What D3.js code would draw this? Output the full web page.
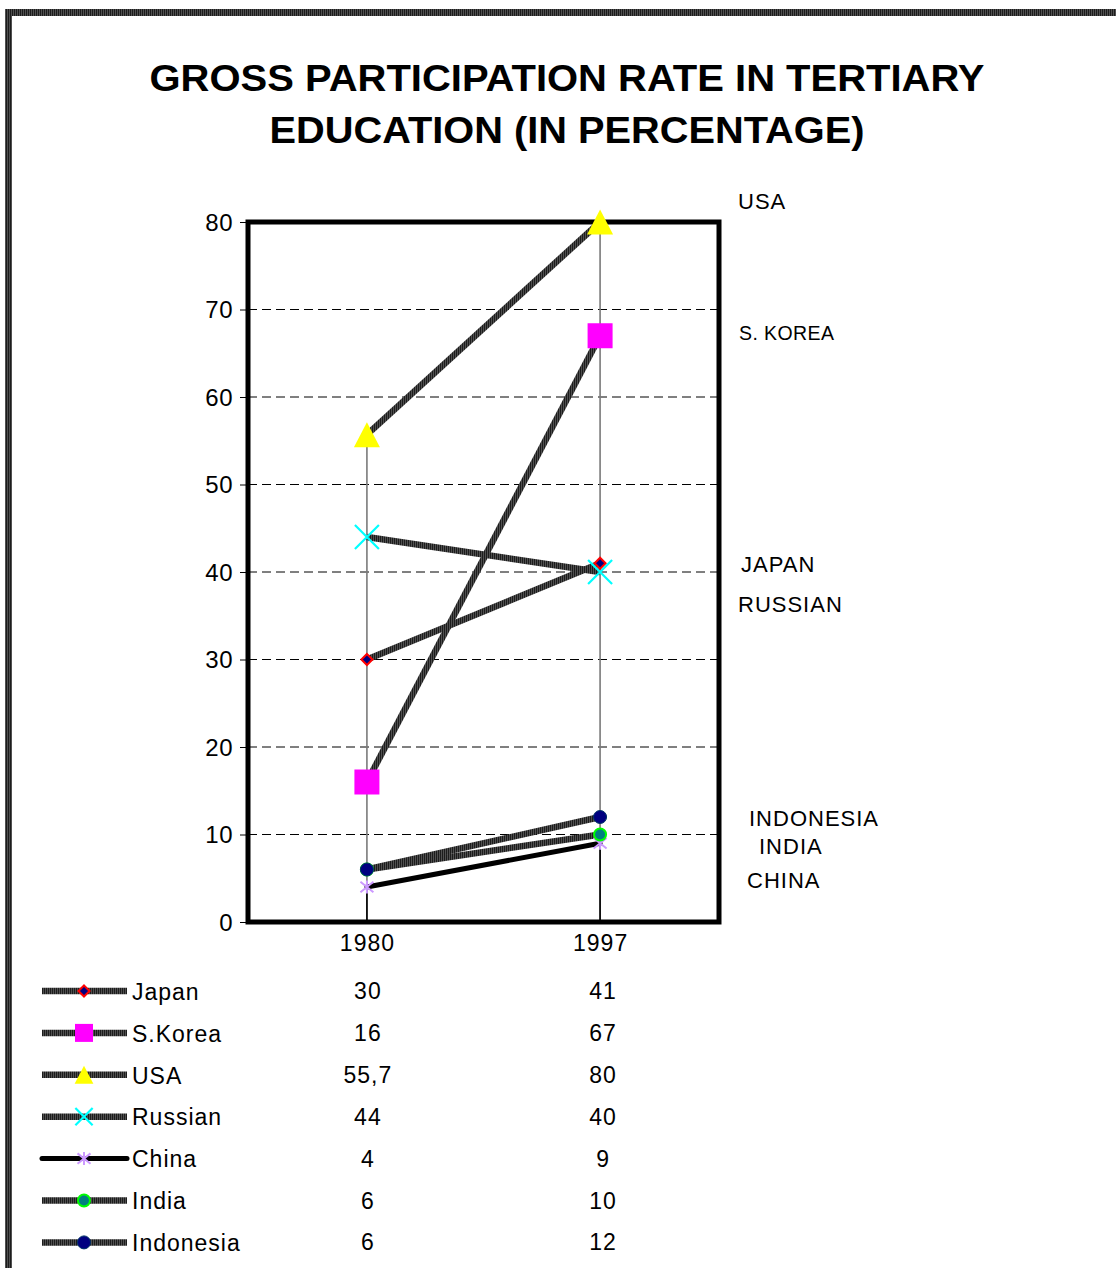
<!DOCTYPE html>
<html>
<head>
<meta charset="utf-8">
<script src="https://cdn.jsdelivr.net/npm/d3@7"></script>
<style>
  body { margin: 0; background: #fff; }
  svg { display: block; }
  text { font-family: "Liberation Sans", Arial, sans-serif; fill: #000; }
</style>
</head>
<body>
<svg id="chart" width="1116" height="1268"></svg>
<script>
// Gross participation rate in tertiary education, 1980 vs 1997
const categories = ["1980", "1997"];
const seriesNames = ["Japan", "S.Korea", "USA", "Russian", "China", "India", "Indonesia"];
const values1980 = [30, 16, 55.7, 44, 4, 6, 6];
const values1997 = [41, 67, 80, 40, 9, 10, 12];
const yTicks = [0, 10, 20, 30, 40, 50, 60, 70, 80];
const titleLines = ["GROSS PARTICIPATION RATE IN TERTIARY", "EDUCATION (IN PERCENTAGE)"];

// Free-floating country captions to the right of the plot, anchored on the value axis
const endLabels = ["USA", "S. KOREA", "JAPAN", "RUSSIAN", "INDONESIA", "INDIA", "CHINA"];
const endLabelLevels = [82.4, 67.3, 40.9, 36.3, 11.9, 8.7, 4.8];

const svg = d3.select("#chart");
const defs = svg.append("defs");

// Striped fill used for the thick series lines and the page frame
const stripes = defs.append("pattern")
  .attr("id", "stripes").attr("patternUnits", "userSpaceOnUse")
  .attr("width", 2).attr("height", 4);
stripes.append("rect").attr("width", 2).attr("height", 4).attr("fill", "#505050");
stripes.append("rect").attr("width", 1).attr("height", 4).attr("fill", "#1c1c1c");

// Page frame
svg.append("rect")
  .attr("x", 8.5).attr("y", 12.5).attr("width", 1400).attr("height", 1600)
  .attr("fill", "none").attr("stroke", "url(#stripes)").attr("stroke-width", 7);

// Title
svg.append("g").selectAll("text").data(titleLines).join("text")
  .attr("x", 567).attr("y", (d, i) => 91 + i * 52)
  .attr("text-anchor", "middle")
  .attr("font-size", 37).attr("font-weight", "bold")
  .attr("textLength", (d, i) => i === 0 ? 835 : 595)
  .attr("lengthAdjust", "spacingAndGlyphs")
  .text(d => d);

const plot = { left: 248, right: 719, top: 222, bottom: 922 };

const x = d3.scalePoint().domain(categories).range([plot.left, plot.right]).padding(0.51);
const y = d3.scaleLinear().domain([0, 80]).range([plot.bottom, plot.top]);

const series = seriesNames.map((name, i) => ({
  name,
  values: [{ cat: categories[0], v: values1980[i] }, { cat: categories[1], v: values1997[i] }]
}));

// Dashed grid
svg.append("g").selectAll("line").data(yTicks.filter(t => t > 0 && t < 80)).join("line")
  .attr("x1", plot.left).attr("x2", plot.right)
  .attr("y1", d => y(d)).attr("y2", d => y(d))
  .attr("stroke", "#000").attr("stroke-width", 1).attr("stroke-dasharray", "9,5");

// Y axis
const yAxis = d3.axisLeft(y).tickValues(yTicks).tickSize(8).tickPadding(7).tickSizeOuter(0);
const yG = svg.append("g").attr("transform", `translate(${plot.left},0)`).call(yAxis);
yG.select(".domain").remove();
yG.selectAll("line").attr("stroke", "#000");
yG.selectAll("text").attr("font-size", 24).attr("font-family", "'Liberation Sans', Arial, sans-serif")
  .attr("letter-spacing", 0.5).attr("dy", "0.35em").attr("fill", "#000");

// X axis labels
const xAxis = d3.axisBottom(x).tickSize(0).tickPadding(13);
const xG = svg.append("g").attr("transform", `translate(0,${plot.bottom})`).call(xAxis);
xG.select(".domain").remove();
xG.selectAll("text").attr("font-size", 23).attr("font-family", "'Liberation Sans', Arial, sans-serif")
  .attr("letter-spacing", 1).attr("fill", "#000");

// Drop lines at each category
const dropG = svg.append("g");
categories.forEach((c, ci) => {
  const vals = series.map(s => s.values[ci].v);
  dropG.append("line")
    .attr("x1", x(c)).attr("x2", x(c)).attr("y1", y(d3.max(vals))).attr("y2", y(0))
    .attr("stroke", "#7a7a7a").attr("stroke-width", 1.6);
  dropG.append("line")
    .attr("x1", x(c)).attr("x2", x(c)).attr("y1", y(d3.min(vals))).attr("y2", y(0))
    .attr("stroke", "#000").attr("stroke-width", 1.6);
});

// Plot frame
svg.append("rect")
  .attr("x", plot.left).attr("y", plot.top)
  .attr("width", plot.right - plot.left).attr("height", plot.bottom - plot.top)
  .attr("fill", "none").attr("stroke", "#000").attr("stroke-width", 5);

// Series lines
const line = d3.line().x(d => x(d.cat)).y(d => y(d.v));
const lineStroke = name => name === "China" ? "#000" : "url(#stripes)";
const lineWidth = name => name === "China" ? 5 : 6.5;

svg.append("g").selectAll("path").data(series).join("path")
  .attr("d", d => line(d.values))
  .attr("fill", "none")
  .attr("stroke", d => lineStroke(d.name))
  .attr("stroke-width", d => lineWidth(d.name))
  .attr("stroke-linecap", d => d.name === "China" ? "round" : "butt");

// Marker shapes per series
function drawMarker(g, name, k) {
  switch (name) {
    case "Japan":
      g.append("path").attr("d", "M0,-5.5L5.5,0L0,5.5L-5.5,0Z")
        .attr("fill", "#000080").attr("stroke", "#ff0000").attr("stroke-width", 2);
      break;
    case "S.Korea": {
      const h = 12.5 * k;
      g.append("rect").attr("x", -h).attr("y", -h).attr("width", 2 * h).attr("height", 2 * h)
        .attr("fill", "#ff00ff");
      break;
    }
    case "USA": {
      const w = 13 * k, h = 12.5 * k;
      g.append("path").attr("d", `M0,${-h}L${w},${h}L${-w},${h}Z`).attr("fill", "#ffff00");
      break;
    }
    case "Russian": {
      const h = 12 * k;
      g.append("path").attr("d", `M${-h},${-h}L${h},${h}M${-h},${h}L${h},${-h}`)
        .attr("stroke", "#00ffff").attr("stroke-width", 2.2).attr("fill", "none");
      break;
    }
    case "China": {
      const h = 6.5;
      g.append("path").attr("d", `M0,${-h}L0,${h}M${-h},${-h * 0.8}L${h},${h * 0.8}M${-h},${h * 0.8}L${h},${-h * 0.8}`)
        .attr("stroke", "#cc99ff").attr("stroke-width", 2).attr("fill", "none");
      break;
    }
    case "India":
      g.append("circle").attr("r", 6).attr("fill", "#008080")
        .attr("stroke", "#00ff00").attr("stroke-width", 2);
      break;
    case "Indonesia":
      g.append("circle").attr("r", 6.5).attr("fill", "#000080")
        .attr("stroke", "#003366").attr("stroke-width", 1);
      break;
  }
}

const markerG = svg.append("g");
series.forEach(s => {
  s.values.forEach(p => {
    const g = markerG.append("g").attr("transform", `translate(${x(p.cat)},${y(p.v)})`);
    drawMarker(g, s.name, 1);
  });
});

// Country captions on the right
const capIndent = { "S. KOREA": 1, "JAPAN": 3, "INDONESIA": 11, "INDIA": 21, "CHINA": 9 };
svg.append("g").selectAll("text").data(endLabels).join("text")
  .attr("x", d => 738 + (capIndent[d] || 0))
  .attr("y", (d, i) => y(endLabelLevels[i]))
  .attr("dy", "0.35em")
  .attr("font-size", d => d === "S. KOREA" ? 19.5 : 22)
  .attr("letter-spacing", d => d === "S. KOREA" ? 0.4 : 1)
  .text(d => d);

// Legend with data table
const rowY = i => 991 + i * 41.9;
const fmt = v => String(v).replace(".", ",");
const legend = svg.append("g");
series.forEach((s, i) => {
  const ry = rowY(i);
  legend.append("line")
    .attr("x1", 42).attr("x2", 127).attr("y1", ry).attr("y2", ry)
    .attr("stroke", lineStroke(s.name)).attr("stroke-width", lineWidth(s.name))
    .attr("stroke-linecap", s.name === "China" ? "round" : "butt");
  drawMarker(legend.append("g").attr("transform", `translate(84,${ry})`), s.name, 0.72);
  legend.append("text")
    .attr("x", 132).attr("y", ry).attr("dy", "0.38em")
    .attr("font-size", 23).attr("letter-spacing", 1)
    .text(s.name);
  s.values.forEach(p => {
    legend.append("text")
      .attr("x", x(p.cat) + (p.cat === "1997" ? 3 : 1)).attr("y", ry).attr("dy", "0.35em")
      .attr("text-anchor", "middle")
      .attr("font-size", 23).attr("letter-spacing", 1)
      .text(fmt(p.v));
  });
});
</script>
</body>
</html>
